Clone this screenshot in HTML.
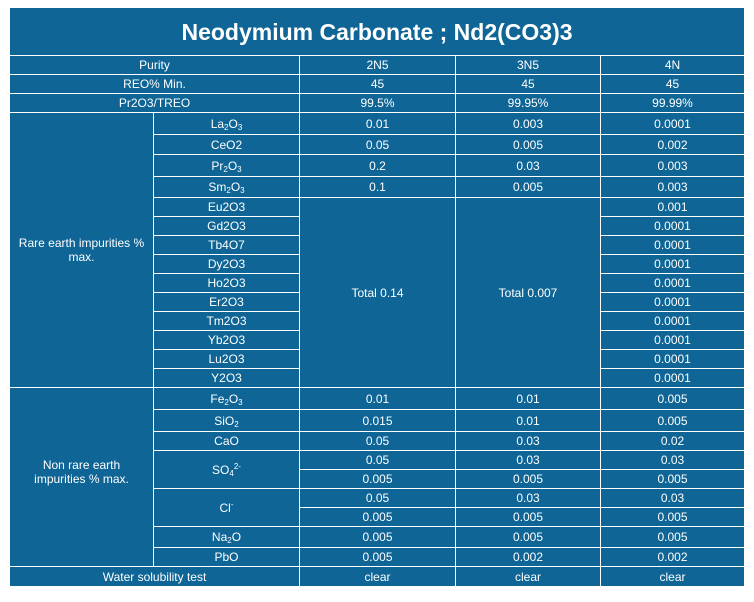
<!DOCTYPE html>
<html><head><meta charset="utf-8"><style>
body{margin:0;background:#fff;width:754px;height:602px;position:relative;font-family:"Liberation Sans",Arial,sans-serif;}
.c{position:absolute;box-sizing:border-box;background:#0e6596;color:#fff;display:flex;align-items:center;justify-content:center;text-align:center;font-size:12px;line-height:14px;}
sub,sup{font-size:8px;line-height:0;}
sub{vertical-align:-2px;}
</style></head><body>
<div class="c" style="left:10px;top:8px;width:734px;height:47px;font-size:23px;font-weight:bold;"><span>Neodymium Carbonate ; Nd2(CO3)3</span></div>
<div id="g"></div>
<script>
var X=[10,154,300,456,601,744];
var H='';
function c(x0,x1,y0,y1,t,extra){var w=X[x1]-X[x0]-(x1==5?0:1);var h=y1-y0-(y1==586?0:1);H+='<div class="c" style="left:'+X[x0]+'px;top:'+y0+'px;width:'+w+'px;height:'+h+'px;'+(extra||'')+'"><span>'+t+'</span></div>';}
c(0,2,56,75,'Purity');c(2,3,56,75,'2N5');c(3,4,56,75,'3N5');c(4,5,56,75,'4N');
c(0,2,75,94,'REO% Min.');c(2,3,75,94,'45');c(3,4,75,94,'45');c(4,5,75,94,'45');
c(0,2,94,113,'Pr2O3/TREO');c(2,3,94,113,'99.5%');c(3,4,94,113,'99.95%');c(4,5,94,113,'99.99%');
c(0,1,113,388,'Rare earth impurities %<br>max.');
var r=[[113,135,'La<sub>2</sub>O<sub>3</sub>','0.01','0.003','0.0001'],[135,155,'CeO2','0.05','0.005','0.002'],[155,177,'Pr<sub>2</sub>O<sub>3</sub>','0.2','0.03','0.003'],[177,198,'Sm<sub>2</sub>O<sub>3</sub>','0.1','0.005','0.003']];
r.forEach(function(a){c(1,2,a[0],a[1],a[2]);c(2,3,a[0],a[1],a[3]);c(3,4,a[0],a[1],a[4]);c(4,5,a[0],a[1],a[5]);});
var n=[['Eu2O3','0.001'],['Gd2O3','0.0001'],['Tb4O7','0.0001'],['Dy2O3','0.0001'],['Ho2O3','0.0001'],['Er2O3','0.0001'],['Tm2O3','0.0001'],['Yb2O3','0.0001'],['Lu2O3','0.0001'],['Y2O3','0.0001']];
n.forEach(function(a,i){var y=198+i*19;c(1,2,y,y+19,a[0]);c(4,5,y,y+19,a[1]);});
c(2,3,198,388,'Total 0.14');c(3,4,198,388,'Total 0.007');
c(0,1,388,567,'Non rare earth<br>impurities % max.','padding-bottom:10px;');
var m=[[388,410,'Fe<sub>2</sub>O<sub>3</sub>','0.01','0.01','0.005'],[410,432,'SiO<sub>2</sub>','0.015','0.01','0.005'],[432,451,'CaO','0.05','0.03','0.02'],[451,470,null,'0.05','0.03','0.03'],[470,489,null,'0.005','0.005','0.005'],[489,508,null,'0.05','0.03','0.03'],[508,527,null,'0.005','0.005','0.005'],[527,548,'Na<sub>2</sub>O','0.005','0.005','0.005'],[548,567,'PbO','0.005','0.002','0.002']];
m.forEach(function(a){if(a[2])c(1,2,a[0],a[1],a[2]);c(2,3,a[0],a[1],a[3]);c(3,4,a[0],a[1],a[4]);c(4,5,a[0],a[1],a[5]);});
c(1,2,451,489,'SO<sub>4</sub><sup>2-</sup>');c(1,2,489,527,'Cl<sup>-</sup>');
c(0,2,567,586,'Water solubility test');c(2,3,567,586,'clear');c(3,4,567,586,'clear');c(4,5,567,586,'clear');
document.getElementById('g').innerHTML=H;
</script>
</body></html>
